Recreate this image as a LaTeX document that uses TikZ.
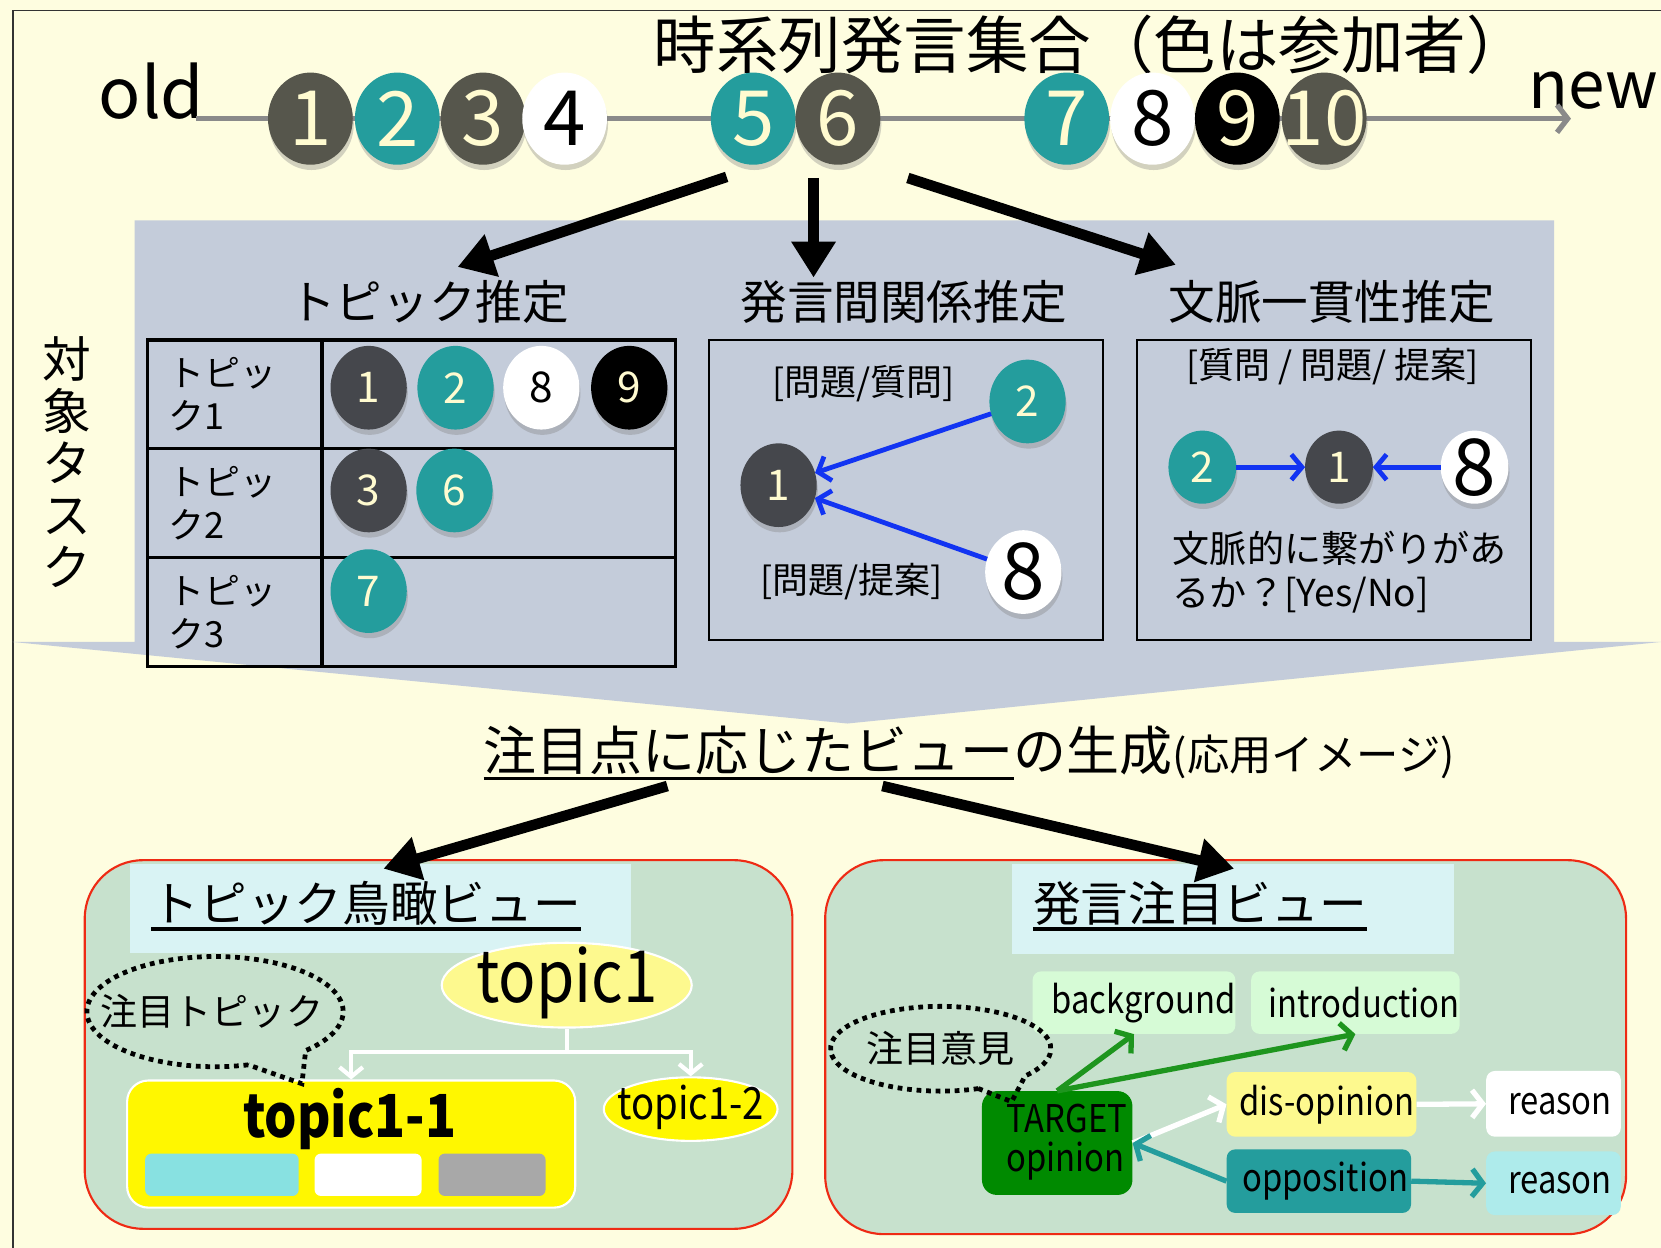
\documentclass[tikz,border=0pt]{standalone}
\usepackage{fontspec}
\setmainfont{Noto Sans CJK JP}
\newfontfamily\condfont{Noto Sans CJK JP}[FakeStretch=0.86]
\usetikzlibrary{arrows.meta,shapes.geometric,shadows}
\definecolor{bgc}{HTML}{FEFDE0}
\definecolor{blockc}{HTML}{C4CCDA}
\definecolor{dball}{HTML}{56564C}
\definecolor{tball}{HTML}{45474C}
\definecolor{tealc}{HTML}{249D9D}
\definecolor{cream}{HTML}{FFFBD0}
\definecolor{tlgray}{HTML}{8A8A8A}
\definecolor{bluec}{HTML}{1234F2}
\definecolor{viewc}{HTML}{C7E1CD}
\definecolor{redc}{HTML}{EE2A14}
\definecolor{hdrc}{HTML}{D9F3F4}
\definecolor{lyel}{HTML}{FDF98E}
\definecolor{yelc}{HTML}{FFF700}
\definecolor{cyanc}{HTML}{88E1E1}
\definecolor{grayc}{HTML}{A8A8A8}
\definecolor{pgreen}{HTML}{D6FBD6}
\definecolor{dgreen}{HTML}{008A00}
\definecolor{garr}{HTML}{1E951E}
\definecolor{lcyan}{HTML}{AEEBEB}
\definecolor{framec}{HTML}{333333}
\newcommand\myfs[2]{\fontsize{#1}{#2}\selectfont}
\begin{document}
\begin{tikzpicture}[x=1pt,y=-1pt,
  ball/.style={ellipse, inner sep=0pt, outer sep=0pt, draw=none,
    drop shadow={shadow xshift=1pt, shadow yshift=-5pt, opacity=0.35}},
  tlball/.style={ball, minimum width=80, minimum height=87},
  tbball/.style={ball, minimum width=72, minimum height=79},
  smball/.style={ball, minimum width=64, minimum height=69},
  tlnum/.style={inner sep=0pt, font=\myfs{72}{72}},
  tbnum/.style={inner sep=0pt, font=\myfs{40}{40}},
  bignum/.style={inner sep=0pt, font=\myfs{74}{74}},
  bigarrow/.style={line width=10, -{Triangle[length=34pt,width=40pt]}},
  barbarrow/.style={line width=5, -{Straight Barb[length=10pt,width=26pt]}},
  bluearrow/.style={bluec, line width=4.5, -{Straight Barb[length=10pt,width=24pt]}},
  plain/.style={inner sep=0pt},
  dotcall/.style={line width=4.5, dash pattern=on 4.5pt off 4.5pt},
  viewbox/.style={draw=redc, line width=2, fill=viewc, rounded corners=55},
  optbox/.style={rounded corners=8, inner sep=0pt, font=\condfont\myfs{36}{36}},
]
\useasboundingbox (0,0) rectangle (1568,1178);
\fill[bgc] (0,0) rectangle (1568,1178);
\draw[framec, line width=1.5] (12,1178) -- (12,10) -- (1568,10);

% ---- task block
\fill[blockc] (127,208) -- (1467,208) -- (1467,606) -- (1568,606) -- (800,683) -- (12,606) -- (127,606) -- cycle;

% ---- timeline
\node[plain, font=\myfs{66}{66}] (old) at (143,86) {old};
\node[plain, font=\myfs{62}{62}] (new) at (1504,86) {new};
\node[plain, font=\myfs{59}{59}] (title) at (1030,42) {時系列発言集合（色は参加者）};
\coordinate (tls) at (185,112);
\coordinate (tle) at (1483,112);
\draw[tlgray, barbarrow] (tls) -- (tle);
\foreach \n/\x/\col/\tc in {1/293/dball/cream,2/375/tealc/cream,3/456/dball/cream,4/533/white/black,5/711/tealc/cream,6/791/dball/cream,7/1007/tealc/cream,8/1088/white/black,9/1168/black/cream,10/1250/dball/cream}
  \node[tlball, fill=\col, label={[tlnum, text=\tc]center:\n}] (c\n) at (\x,112) {};

% ---- arrows to tasks
\coordinate (a1s) at (686,167); \coordinate (a1e) at (432,252);
\coordinate (a2s) at (768,168); \coordinate (a2e) at (768,262);
\coordinate (a3s) at (857,168); \coordinate (a3e) at (1110,250);
\draw[bigarrow] (a1s) -- (a1e);
\draw[bigarrow] (a2s) -- (a2e);
\draw[bigarrow] (a3s) -- (a3e);

% ---- task titles
\node[plain, font=\myfs{44}{44}] (task1) at (405,285) {トピック推定};
\node[plain, font=\myfs{44}{44}] (task2) at (853,285) {発言間関係推定};
\node[plain, font=\myfs{44}{44}] (task3) at (1257,285) {文脈一貫性推定};
\node[plain, font=\myfs{46}{49}, align=center] (tasks) at (63,436) {対\\象\\タ\\ス\\ク};

% ---- topic table
\draw[line width=3] (139,321) rectangle (638,629);
\draw[line width=3] (304,321) -- (304,629);
\draw[line width=3] (139,423) -- (638,423);
\draw[line width=3] (139,526) -- (638,526);
\node[plain, anchor=west, align=left, font=\myfs{34}{40}] (row1) at (159,372) {トピッ\\ク1};
\node[plain, anchor=west, align=left, font=\myfs{34}{40}] (row2) at (159,475) {トピッ\\ク2};
\node[plain, anchor=west, align=left, font=\myfs{34}{40}] (row3) at (159,578) {トピッ\\ク3};
\foreach \n/\x/\y/\col/\tc in {1/348/366/tball/cream,2/430/366/tealc/cream,8/511/366/white/black,9/594/366/black/cream,3/348/463/tball/cream,6/429/463/tealc/cream,7/348/558/tealc/cream}
  \node[tbball, fill=\col, label={[tbnum, text=\tc]center:\n}] (t\n) at (\x,\y) {};

% ---- relation box
\draw[line width=2] (669,321) rectangle (1041,604);
\node[plain, font=\myfs{34}{34}] (q1) at (815,362) {[問題/質問]};
\node[plain, font=\myfs{34}{34}] (q2) at (804,549) {[問題/提案]};
\node[tbball, fill=tealc, label={[tbnum, text=cream]center:2}] (m2) at (970,379) {};
\node[tbball, fill=tball, label={[tbnum, text=cream]center:1}] (m1) at (735,458) {};
\node[tbball, fill=white, label={[bignum, text=black]center:8}] (m8) at (966,540) {};
\draw[bluearrow] (m2) -- (m1);
\draw[bluearrow] (m8) -- (m1);

% ---- coherence box
\draw[line width=2] (1073,321) rectangle (1445,604);
\node[plain, font=\myfs{34}{34}] (q3) at (1258,346) {[質問 / 問題/ 提案]};
\node[smball, fill=tealc, label={[tbnum, text=cream]center:2}] (r2) at (1135,441) {};
\node[smball, fill=tball, label={[tbnum, text=cream]center:1}] (r1) at (1264,441) {};
\node[smball, fill=white, label={[bignum, text=black]center:8}] (r8) at (1392,441) {};
\draw[bluearrow] (r2) -- (r1);
\draw[bluearrow] (r8) -- (r1);
\node[plain, anchor=west, align=left, font=\myfs{35}{41}] (coh) at (1107,540) {文脈的に繋がりがあ\\るか？[Yes/No]};

% ---- generation text
\node[plain, anchor=base east, font=\myfs{50}{50}] (gen1) at (957,727) {注目点に応じたビュー};
\node[plain, anchor=base west] (gen2) at (gen1.base east) {{\myfs{50}{50}の生成}{\myfs{40}{40}(応用イメージ)}};
\draw[line width=3] ([yshift=-8pt]gen1.base west) -- ([yshift=-8pt]gen1.base east);

% ---- view boxes
\node[viewbox, minimum width=668, minimum height=348] (lv) at (414,986) {};
\node[viewbox, minimum width=756, minimum height=353] (rv) at (1157,988.5) {};
\coordinate (b1s) at (630,742); \coordinate (b1e) at (362,820);
\coordinate (b2s) at (833,742); \coordinate (b2e) at (1165,820);

% left view
\fill[hdrc] (123,816) rectangle (596,900);
\node[plain, anchor=base west, font=\myfs{45}{45}] (lvt) at (143,870) {トピック鳥瞰ビュー};
\draw[line width=3] ([yshift=-7pt]lvt.base west) -- ([yshift=-7pt]lvt.base east);
\node[ellipse, draw=white, line width=2, fill=lyel, minimum width=236, minimum height=80, inner sep=0pt] (tp1) at (535,930) {};
\node[plain, font=\condfont\myfs{68}{68}] (tp1t) at (535,928) {topic1};
\node[draw=white, line width=2, fill=yelc, rounded corners=20, minimum width=423, minimum height=120] (tp11) at (331.5,1080) {};
\node[plain, font=\condfont\bfseries\myfs{56}{56}] (tp11t) at (330,1056) {topic1-1};
\node[fill=cyanc, rounded corners=6, minimum width=145, minimum height=40, inner sep=0pt] (sq1) at (209.5,1109) {};
\node[fill=white, rounded corners=6, minimum width=101, minimum height=40, inner sep=0pt] (sq2) at (347.5,1109) {};
\node[fill=grayc, rounded corners=6, minimum width=101, minimum height=40, inner sep=0pt] (sq3) at (464.5,1109) {};
\node[ellipse, draw=white, line width=2, fill=yelc, minimum width=164, minimum height=60, inner sep=0pt] (tp12) at (652,1047) {};
\node[plain, font=\condfont\myfs{42}{42}] (tp12t) at (652,1045) {topic1-2};
\coordinate (br) at (535,993);
\draw[white, line width=4] (tp1.south) -- (br);
\draw[white, line width=4, -{Straight Barb[length=9pt,width=22pt]}] (br) -| (tp11.north);
\draw[white, line width=4, -{Straight Barb[length=9pt,width=22pt]}] (br) -| (tp12.north);
\draw[dotcall] (234.3,1005.2) arc[start angle=75, end angle=405, x radius=121, y radius=52] -- (285,1023) -- cycle;
\node[plain, font=\myfs{35}{35}] (ct) at (200,955) {注目トピック};

% right view
\fill[hdrc] (955,816) rectangle (1373,901);
\node[plain, anchor=base west, font=\myfs{45}{45}] (rvt) at (975,870) {発言注目ビュー};
\draw[line width=3] ([yshift=-7pt]rvt.base west) -- ([yshift=-7pt]rvt.base east);
\node[optbox, fill=pgreen, minimum width=187, minimum height=59] (bg) at (1070.5,946.5) {\hspace*{18pt}background};
\node[optbox, fill=pgreen, minimum width=195, minimum height=59] (intro) at (1279.5,946.5) {\hspace*{16pt}introduction};
\node[optbox, fill=dgreen, rounded corners=14, minimum width=142, minimum height=98] (tg) at (998,1079) {};
\node[plain, anchor=west, align=left, font=\condfont\myfs{36}{37}] (tgt) at (950,1078) {TARGET\\opinion};
\node[optbox, fill=lyel, minimum width=179, minimum height=61] (dis) at (1247.5,1042.5) {\hspace*{10pt}dis-opinion};
\node[optbox, fill=white, minimum width=127, minimum height=62] (rs1) at (1466.5,1042) {\hspace*{12pt}reason};
\node[optbox, fill=tealc, minimum width=174, minimum height=60] (opp) at (1245,1115) {\hspace*{12pt}opposition};
\node[optbox, fill=lcyan, minimum width=127, minimum height=60] (rs2) at (1466.5,1117) {\hspace*{12pt}reason};
\draw[garr, barbarrow] (tg.north) -- (bg.south);
\draw[garr, barbarrow] (tg.north) -- (intro.south);
\draw[white, barbarrow] (tg.east) -- (dis.west);
\draw[tealc, barbarrow] (opp.west) -- (tg.east);
\draw[white, barbarrow] (dis.east) -- (rs1.west);
\draw[tealc, barbarrow] (opp.east) -- (rs2.west);
\draw[dotcall] (923.6,1027.6) arc[start angle=70, end angle=400, x radius=104, y radius=40] -- (955,1040) -- cycle;
\node[plain, font=\myfs{35}{35}] (co) at (888,990) {注目意見};

% ---- arrows to views
\draw[bigarrow] (b1s) -- (b1e);
\draw[bigarrow] (b2s) -- (b2e);
\end{tikzpicture}
\end{document}
